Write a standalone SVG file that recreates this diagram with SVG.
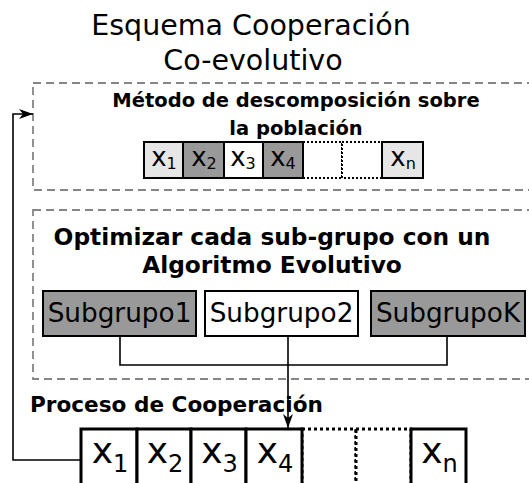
<svg xmlns="http://www.w3.org/2000/svg" width="529" height="483" viewBox="0 0 529 483">
<defs>
<style>
text{font-family:"DejaVu Sans","Verdana",sans-serif;fill:#000}
.ttl{font-size:28.5px;text-anchor:middle}
.b1{font-size:19.5px;font-weight:bold;text-anchor:middle}
.b2{font-size:23.3px;font-weight:bold;text-anchor:middle}
.b3{font-size:21.6px;font-weight:bold}
.dash{fill:none;stroke:#858585;stroke-width:1.8;stroke-dasharray:8 5}
.c1{stroke:#000;stroke-width:2}
.c1d{fill:#fff;stroke:#000;stroke-width:2;stroke-dasharray:2 2}
.c2{fill:#fff;stroke:#000;stroke-width:3}
.c2d{fill:#fff;stroke:#000;stroke-width:3;stroke-dasharray:3 3}
.sg{stroke:#000;stroke-width:2}
.sgt{font-size:26.3px;text-anchor:middle}
.xs{font-size:26px;text-anchor:middle}
.xb{font-size:36px;text-anchor:middle}
.conn{fill:none;stroke:#000;stroke-width:1.6}
</style>
<marker id="arr" viewBox="0 0 14 10" refX="14" refY="5" markerWidth="14" markerHeight="10" markerUnits="userSpaceOnUse" orient="auto">
<path d="M0,0 L14,5 L0,10 L4,5 Z" fill="#000"/>
</marker>
</defs>

<g id="title">
<text class="ttl" x="251" y="35">Esquema Cooperación</text>
<text class="ttl" x="253" y="70">Co-evolutivo</text>
</g>

<g id="decomposition">
<rect class="dash" x="33" y="83" width="510" height="107"/>
<text class="b1" x="296" y="107">Método de descomposición sobre</text>
<text class="b1" x="296" y="135">la población</text>
</g>

<g id="top-row">
<rect class="c1d" x="303" y="142" width="39" height="36"/>
<rect class="c1d" x="342" y="142" width="40" height="36"/>
<rect class="c1" fill="#e6e6e6" x="144" y="142" width="39" height="36"/>
<rect class="c1" fill="#999999" x="183" y="142" width="41" height="36"/>
<rect class="c1" fill="#ffffff" x="224" y="142" width="39" height="36"/>
<rect class="c1" fill="#999999" x="263" y="142" width="40" height="36"/>
<rect class="c1" fill="#e6e6e6" x="382" y="142" width="41" height="36"/>
<text class="xs" x="164" y="166">x<tspan font-size="16" dy="3">1</tspan></text>
<text class="xs" x="204" y="166">x<tspan font-size="16" dy="3">2</tspan></text>
<text class="xs" x="243" y="166">x<tspan font-size="16" dy="3">3</tspan></text>
<text class="xs" x="283" y="166">x<tspan font-size="16" dy="3">4</tspan></text>
<text class="xs" x="403" y="166">x<tspan font-size="16" dy="3">n</tspan></text>
</g>

<g id="optimize">
<rect class="dash" x="33" y="210" width="510" height="169"/>
<text class="b2" x="272" y="245">Optimizar cada sub-grupo con un</text>
<text class="b2" x="272" y="273">Algoritmo Evolutivo</text>
</g>

<g id="subgrupo1">
<rect class="sg" fill="#999999" x="43" y="291" width="153" height="45"/>
<text class="sgt" x="119.5" y="322">Subgrupo1</text>
</g>
<g id="subgrupo2">
<rect class="sg" fill="#ffffff" x="205" y="291" width="153" height="45"/>
<text class="sgt" x="281.5" y="322">Subgrupo2</text>
</g>
<g id="subgrupoK">
<rect class="sg" fill="#999999" x="371" y="291" width="154" height="45"/>
<text class="sgt" x="448" y="322">SubgrupoK</text>
</g>

<g id="cooperation">
<text class="b3" x="30" y="412">Proceso de Cooperación</text>
</g>

<g id="bottom-row">
<rect class="c2d" x="302" y="429" width="54" height="58"/>
<rect class="c2d" x="356" y="429" width="55" height="58"/>
<rect class="c2" x="81" y="429" width="56" height="58"/>
<rect class="c2" x="137" y="429" width="54" height="58"/>
<rect class="c2" x="191" y="429" width="55" height="58"/>
<rect class="c2" x="246" y="429" width="56" height="58"/>
<rect class="c2" x="411" y="429" width="55" height="58"/>
<text class="xb" x="110" y="463">x<tspan font-size="24" dy="9">1</tspan></text>
<text class="xb" x="165" y="463">x<tspan font-size="24" dy="9">2</tspan></text>
<text class="xb" x="219.5" y="463">x<tspan font-size="24" dy="9">3</tspan></text>
<text class="xb" x="275" y="463">x<tspan font-size="24" dy="9">4</tspan></text>
<text class="xb" x="439.5" y="463">x<tspan font-size="24" dy="9">n</tspan></text>
</g>

<g id="connectors">
<polyline class="conn" points="120,337 120,365 447,365 447,337"/>
<line class="conn" x1="288" y1="337" x2="288" y2="428" marker-end="url(#arr)"/>
<polyline class="conn" points="80,460 13,460 13,114 33,114" marker-end="url(#arr)"/>
</g>
</svg>
